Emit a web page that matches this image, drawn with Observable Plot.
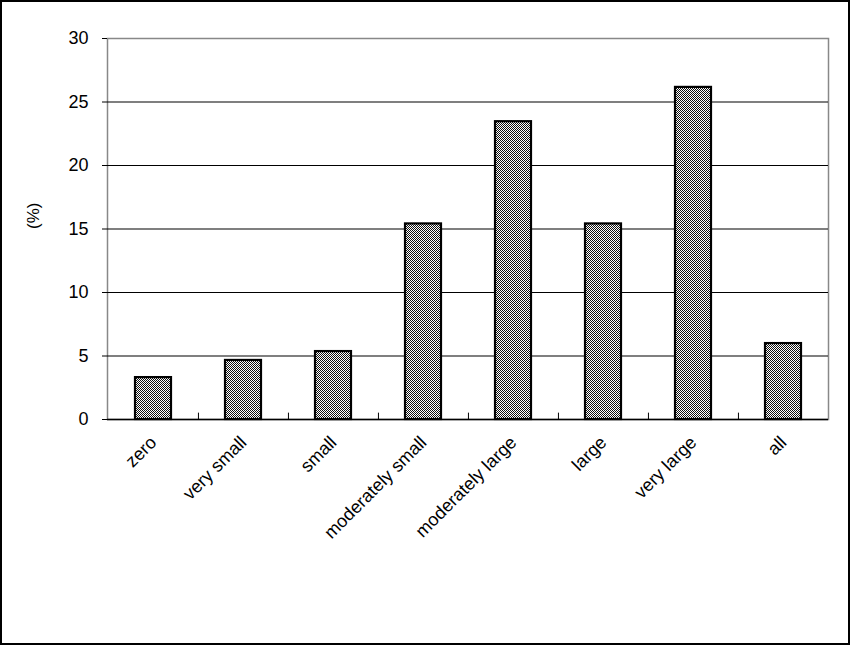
<!DOCTYPE html>
<html>
<head>
<meta charset="utf-8">
<script src="https://cdn.jsdelivr.net/npm/d3@7"></script>
<script src="https://cdn.jsdelivr.net/npm/@observablehq/plot@0.6"></script>
<style>
  body { margin: 0; background: #fff; }
  #chart svg { display: block; outline: 2px solid #000; outline-offset: -2px; }
</style>
</head>
<body>
<div id="chart"></div>
<script>
const categories = ["zero", "very small", "small", "moderately small", "moderately large", "large", "very large", "all"];
const values = [3.3, 4.65, 5.35, 15.4, 23.45, 15.4, 26.15, 5.98];
const yTicks = [0, 5, 10, 15, 20, 25, 30];
const gridTicks = [5, 10, 15, 20, 25];
const yLabel = "(%)";

const data = categories.map((c, i) => ({category: c, value: values[i]}));
const W = 850, H = 645, mL = 107, mR = 22, mT = 38, mB = 226;
const step = (W - mL - mR) / categories.length;

const plot = Plot.plot({
  width: W,
  height: H,
  marginLeft: mL,
  marginRight: mR,
  marginTop: mT,
  marginBottom: mB,
  style: {fontFamily: "'Liberation Sans', Arial, sans-serif", fontSize: "16px", color: "#000", background: "#fff"},
  x: {domain: categories, padding: 0, label: null},
  y: {domain: [0, 30], label: null},
  marks: [
    Plot.frame({stroke: "#888", strokeWidth: 1.5}),
    Plot.ruleY(gridTicks, {stroke: "#000", strokeWidth: 1.2}),
    Plot.barY(data, {x: "category", y: "value", fill: "url(#dots)", stroke: "#000", strokeWidth: 2.2, insetLeft: 27, insetRight: 27}),
    Plot.ruleY([0], {stroke: "#000", strokeWidth: 1.5}),
    Plot.ruleX([0], {frameAnchor: "left", stroke: "#000", strokeWidth: 1.5}),
    Plot.ruleX(categories.slice(1), {x: d => d, dx: -step / 2, y1: 0, y2: 0.5, stroke: "#000", strokeWidth: 1}),
    Plot.axisY({ticks: yTicks, tickSize: 5, tickPadding: 14, fontSize: 18, label: null}),
    Plot.axisX({tickSize: 0, tickPadding: 20, tickRotate: -45, fontSize: 18, label: null}),
    Plot.text([yLabel], {frameAnchor: "left", dx: -74, rotate: -90, fontSize: 17})
  ]
});

const svg = d3.select(plot);
const defs = svg.insert("defs", ":first-child");
const pat = defs.append("pattern").attr("id", "dots").attr("patternUnits", "userSpaceOnUse")
  .attr("width", 2).attr("height", 2);
pat.append("rect").attr("width", 2).attr("height", 2).attr("fill", "#fff");
pat.append("rect").attr("x", 0).attr("y", 0).attr("width", 1).attr("height", 1).attr("fill", "#111");
pat.append("rect").attr("x", 1).attr("y", 1).attr("width", 1).attr("height", 1).attr("fill", "#111");

document.getElementById("chart").append(plot);
</script>
</body>
</html>
